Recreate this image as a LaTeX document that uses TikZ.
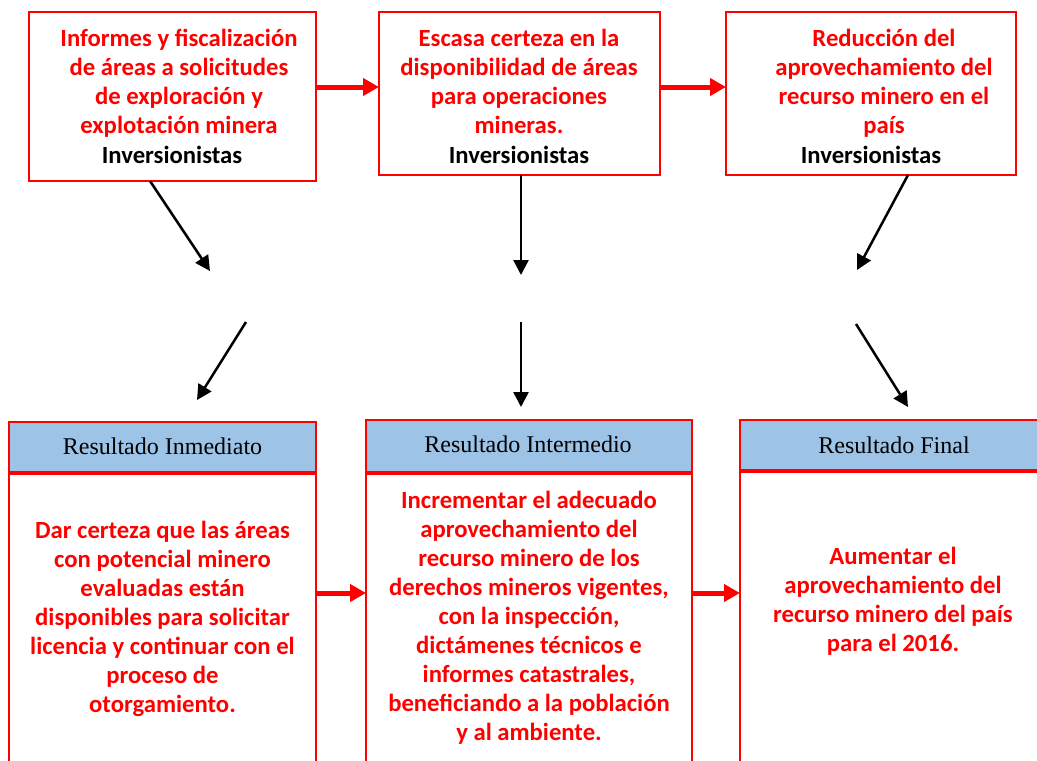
\documentclass[tikz,border=0pt]{standalone}
\usepackage{fontspec}
\setmainfont{Carlito}
\newfontfamily\tnr{Liberation Serif}
\usetikzlibrary{arrows.meta}
\definecolor{hdrblue}{HTML}{9DC3E6}
\begin{document}
\begin{tikzpicture}[x=1pt,y=-1pt,
  box/.style={draw=red, line width=2pt, inner sep=0pt, outer sep=0pt, anchor=north west},
  hdr/.style={box, fill=hdrblue},
  redtxt/.style={text=red, font=\fontsize{24.7}{29}\selectfont\bfseries, align=center, inner sep=0pt, anchor=north},
  inv/.style={font=\fontsize{24.7}{29}\selectfont\bfseries, inner sep=0pt, anchor=base},
  htxt/.style={font=\tnr\fontsize{24}{29}\selectfont, inner sep=0pt, anchor=base},
  blk/.style={line width=2.5pt, -{Triangle[length=15pt,width=15pt]}},
  redarr/.style={draw=red, line width=5pt, -{Triangle[length=16pt,width=17pt]}}
]
\useasboundingbox (0,0) rectangle (1037,761);
\clip (0,0) rectangle (1037,761);
\fill[white] (0,0) rectangle (1037,761);

% top boxes
\node[box, minimum width=287pt, minimum height=169pt] (t1) at (29,12) {};
\node[box, minimum width=281pt, minimum height=163pt] (t2) at (379,12) {};
\node[box, minimum width=290pt, minimum height=163pt] (t3) at (726,12) {};

\node[redtxt] (t1r) at (179,29) {Informes y fiscalización\\de áreas a solicitudes\\de exploración y\\explotación minera};
\node[inv] (t1i) at (172,163) {Inversionistas};
\node[redtxt] (t2r) at (519,29) {Escasa certeza en la\\disponibilidad de áreas\\para operaciones\\mineras.};
\node[inv] (t2i) at (519,163) {Inversionistas};
\node[redtxt] (t3r) at (884,29) {Reducción del\\aprovechamiento del\\recurso minero en el\\país};
\node[inv] (t3i) at (871,163) {Inversionistas};

% bottom boxes
\node[hdr, minimum width=307pt, minimum height=50pt] (h1) at (9,422) {};
\node[box, minimum width=307pt, minimum height=330pt] (b1) at (9,474) {};
\node[hdr, minimum width=326pt, minimum height=52pt] (h2) at (366,420) {};
\node[box, minimum width=326pt, minimum height=330pt] (b2) at (366,474) {};
\node[hdr, minimum width=308pt, minimum height=50pt] (h3) at (740,420) {};
\node[box, minimum width=308pt, minimum height=330pt] (b3) at (740,472) {};

\node[htxt] (h1t) at (162.5,454) {Resultado Inmediato};
\node[htxt] (h2t) at (528,452) {Resultado Intermedio};
\node[htxt] (h3t) at (894,453) {Resultado Final};

\node[redtxt] (b1t) at (162.5,521) {Dar certeza que las áreas\\con potencial minero\\evaluadas están\\disponibles para solicitar\\licencia y continuar con el\\proceso de\\otorgamiento.};
\node[redtxt] (b2t) at (529,491) {Incrementar el adecuado\\aprovechamiento del\\recurso minero de los\\derechos mineros vigentes,\\con la inspección,\\dictámenes técnicos e\\informes catastrales,\\beneficiando a la población\\y al ambiente.};
\node[redtxt] (b3t) at (893,547) {Aumentar el\\aprovechamiento del\\recurso minero del país\\para el 2016.};

% red arrows
\coordinate (rt) at (0,87);
\draw[redarr] (t1.east |- rt) -- (t2.west |- rt);
\draw[redarr] (t2.east |- rt) -- (t3.west |- rt);
\coordinate (rb) at (0,593);
\draw[redarr] (b1.east |- rb) -- (b2.west |- rb);
\draw[redarr] (b2.east |- rb) -- (b3.west |- rb);

% black arrows
\coordinate (e1) at (210,271);
\coordinate (s2) at (246,322);
\coordinate (e2) at (197,400);
\coordinate (e3) at (521,275);
\coordinate (s4) at (521,322);
\coordinate (e4) at (521,407);
\coordinate (e5) at (857,270);
\coordinate (s6) at (856,324);
\coordinate (e6) at (908,407);
\draw[blk] ([xshift=-22.5pt]t1.south) -- (e1);
\draw[blk] (s2) -- (e2);
\draw[blk] ([xshift=1.5pt]t2.south) -- (e3);
\draw[blk] (s4) -- (e4);
\draw[blk] ([xshift=37pt]t3.south) -- (e5);
\draw[blk] (s6) -- (e6);
\end{tikzpicture}
\end{document}
